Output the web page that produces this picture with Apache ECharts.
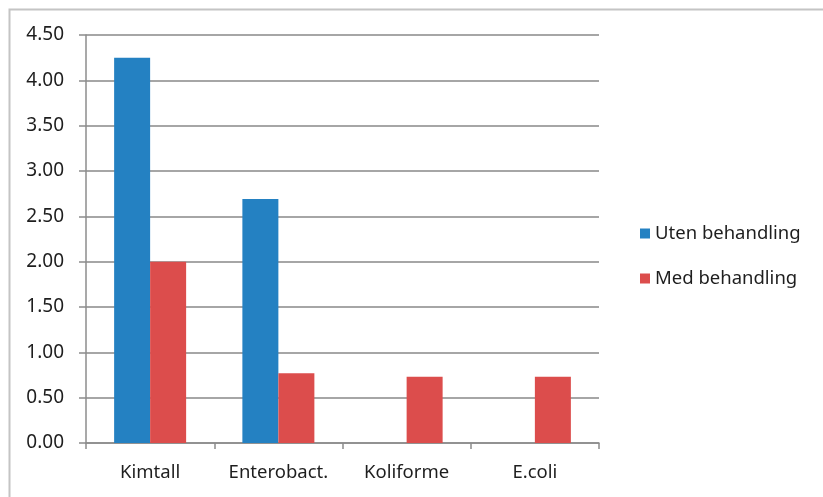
<!DOCTYPE html>
<html>
	<head>
		<meta charset="utf-8">
		<title></title>
		<script src="https://cdn.jsdelivr.net/npm/echarts@6/dist/echarts.min.js" type="text/javascript" charset="utf-8"></script>
		<style>
			html, body { margin: 0; padding: 0; background: #fff; }
		</style>
	</head>
	<body>
		<div id="mainChart" style="width: 823px;height:497px;"></div>
		<script type="text/javascript">
			// data
			var categories = ['Kimtall', 'Enterobact.', 'Koliforme', 'E.coli'];
			var seriesNames = ['Uten behandling', 'Med behandling'];
			var utenVals = [4.25, 2.69, null, null];
			var medVals = [2.00, 0.77, 0.73, 0.73];
			var colors = ['#2481c2', '#dc4d4c'];

			var myChart = echarts.init(document.getElementById('mainChart'));
			var font = 'Noto Sans';

			var option = {
				backgroundColor: '#fff',
				animation: false,
				textStyle: { fontFamily: font },
				grid: { left: 86, right: 224, top: 35, bottom: 54 },
				legend: {
					orient: 'vertical',
					left: 635,
					top: 219,
					itemWidth: 10,
					itemHeight: 10,
					itemGap: 26,
					icon: 'rect',
					textStyle: { fontFamily: font, fontSize: 18.5, color: '#1e1e1e' },
					data: seriesNames
				},
				xAxis: {
					type: 'category',
					data: categories,
					axisLine: { lineStyle: { color: '#8c8c8c', width: 1.5 } },
					axisTick: { show: true, length: 6, lineStyle: { color: '#8c8c8c', width: 1.5 } },
					axisLabel: { interval: 0, fontFamily: font, fontSize: 18.5, color: '#1e1e1e', margin: 20 }
				},
				yAxis: {
					type: 'value',
					min: 0,
					max: 4.5,
					interval: 0.5,
					axisLine: { show: true, lineStyle: { color: '#8c8c8c', width: 1.5 } },
					axisTick: { show: true, length: 7, lineStyle: { color: '#8c8c8c', width: 1.5 } },
					axisLabel: {
						fontFamily: font, fontSize: 19, color: '#1e1e1e', margin: 22,
						formatter: function (v) { return v.toFixed(2); }
					},
					splitLine: { lineStyle: { color: '#a6a6a6', width: 2 } }
				},
				series: [{
					name: seriesNames[0],
					type: 'bar',
					data: utenVals,
					barWidth: 36,
					barGap: '0%',
					itemStyle: { color: colors[0] }
				}, {
					name: seriesNames[1],
					type: 'bar',
					data: medVals,
					barWidth: 36,
					itemStyle: { color: colors[1] }
				}],
				graphic: [{
					type: 'polyline',
					shape: { points: [[9.5, 497], [9.5, 9.5], [823, 9.5]] },
					style: { stroke: '#c4c4c4', lineWidth: 2, fill: null }
				}]
			};
			myChart.setOption(option, true);
		</script>
	</body>
</html>
